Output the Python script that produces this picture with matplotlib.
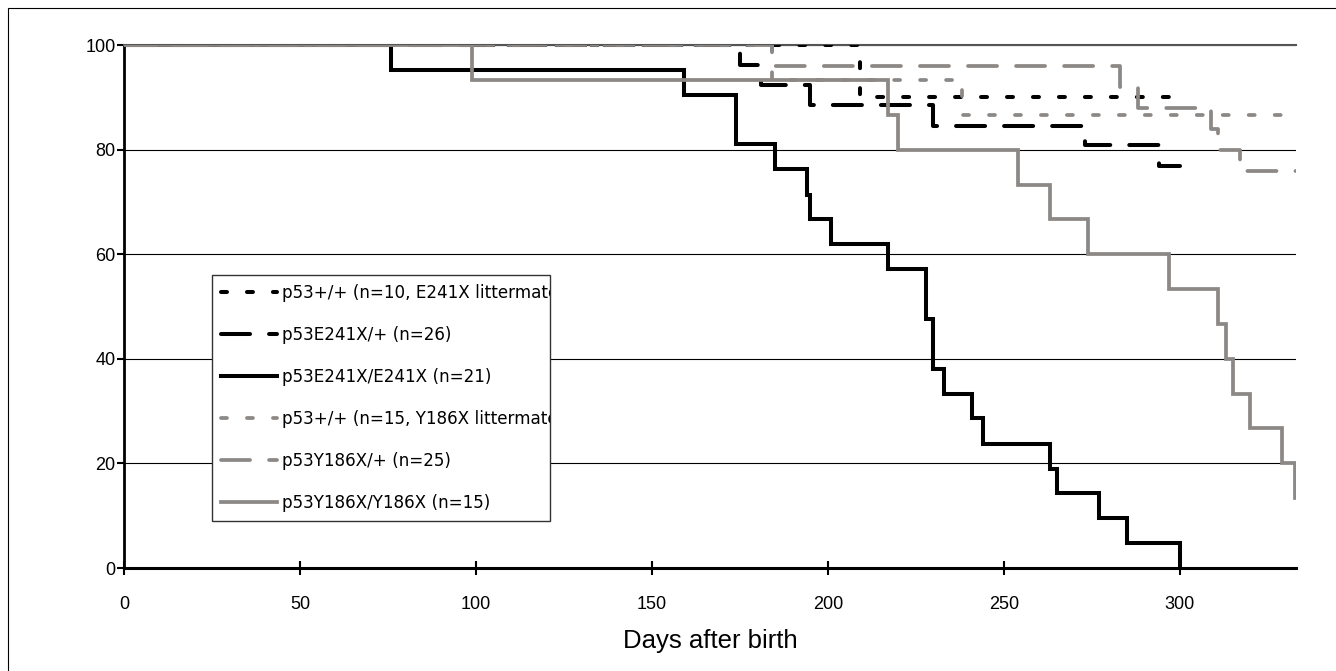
import matplotlib
matplotlib.use('Agg')
import matplotlib.pyplot as plt
from matplotlib.patches import Rectangle
from matplotlib.transforms import Bbox, TransformedBbox

plt.rcParams['font.family'] = ['Liberation Sans', 'DejaVu Sans']
plt.rcParams['lines.scale_dashes'] = False

GRAY = '#8c8885'

# Kaplan-Meier style data: day of each drop and % surviving after it,
# last entry is the end of follow-up
wt_e_days = [0, 209, 300]
wt_e_surv = [100, 90, 90]

e_het_days = [0, 175, 181, 195, 230, 273, 294, 300]
e_het_surv = [100, 96.2, 92.3, 88.5, 84.6, 80.8, 76.9, 76.9]

e_hom_days = [0, 76, 159, 174, 185, 194, 195, 201, 217, 228, 230, 233,
              241, 244, 263, 265, 277, 285, 300]
e_hom_surv = [100, 95.2, 90.5, 81.0, 76.2, 71.4, 66.7, 61.9, 57.1, 47.6,
              38.1, 33.3, 28.6, 23.8, 19.0, 14.3, 9.5, 4.8, 0]

wt_y_days = [0, 184, 238, 340]
wt_y_surv = [100, 93.3, 86.7, 86.7]

y_het_days = [0, 184, 283, 288, 309, 311, 317, 340]
y_het_surv = [100, 96, 92, 88, 84, 80, 76, 76]

y_hom_days = [0, 99, 217, 220, 254, 263, 274, 297, 311, 313, 315, 320,
              329, 332.6, 340]
y_hom_surv = [100, 93.3, 86.7, 80, 73.3, 66.7, 60, 53.3, 46.7, 40, 33.3,
              26.7, 20, 13.3, 13.3]

labels = ['p53+/+ (n=10, E241X littermates)',
          'p53E241X/+ (n=26)',
          'p53E241X/E241X (n=21)',
          'p53+/+ (n=15, Y186X littermates)',
          'p53Y186X/+ (n=25)',
          'p53Y186X/Y186X (n=15)']

xticks = [0, 50, 100, 150, 200, 250, 300]
yticks = [0, 20, 40, 60, 80, 100]

short_dash = (4.3, 14.4)
long_dash = (20.9, 13.7)

fig = plt.figure(figsize=(13.36, 6.71), dpi=100)
ax = fig.add_axes([0.0928, 0.1535, 0.8772, 0.7794])

for y in yticks[1:]:
    ax.axhline(y, color='black', lw=0.8, zorder=1)

series = [
    (wt_e_days, wt_e_surv, 'black', short_dash),
    (e_het_days, e_het_surv, 'black', long_dash),
    (e_hom_days, e_hom_surv, 'black', None),
    (wt_y_days, wt_y_surv, GRAY, short_dash),
    (y_het_days, y_het_surv, GRAY, long_dash),
    (y_hom_days, y_hom_surv, GRAY, None),
]
for (d, s, c, dash), lab in zip(series, labels):
    line, = ax.plot(d, s, drawstyle='steps-post', color=c,
                    lw=2.9 if c == 'black' else 2.7, label=lab, zorder=3,
                    solid_joinstyle='miter', dash_capstyle='round')
    if dash is not None:
        line.set_dashes(dash)

ax.set_xlim(0, 333)
ax.set_ylim(0, 100)
ax.set_xticks(xticks)
ax.set_yticks(yticks)
ax.tick_params(axis='both', labelsize=13, width=1.5, color='black')
ax.tick_params(axis='x', direction='inout', length=10, pad=15)
ax.tick_params(axis='y', direction='out', length=5, pad=1)
ax.spines['right'].set_visible(False)
ax.spines['top'].set_color('#555555')
ax.spines['top'].set_linewidth(1.5)
ax.spines['left'].set_linewidth(2)
ax.spines['bottom'].set_linewidth(2.2)
ax.set_xlabel('Days after birth', fontsize=18.5, labelpad=12)

leg = ax.legend(loc='upper left', bbox_to_anchor=(0.075, 0.086, 0.2885, 0.474),
                mode='expand', borderaxespad=0, fancybox=False,
                framealpha=1, edgecolor='#333333',
                prop={'family': 'DejaVu Sans', 'size': 12.1},
                handlelength=3.35, handletextpad=0.25, labelspacing=1.42,
                borderpad=0.55)
leg.get_frame().set_linewidth(1.0)
leg.set_zorder(5)
clip = TransformedBbox(Bbox([[0.0, -1.0], [0.3632, 2.0]]), ax.transAxes)
for t in leg.get_texts():
    t.set_clip_box(clip)
    t.set_clip_on(True)

fig.patches.append(Rectangle((8 / 1336, -0.05), 1.1, 1 - 8 / 671 + 0.05,
                             transform=fig.transFigure, fill=False,
                             edgecolor='black', lw=0.8))

fig.savefig('out.png', dpi=100)
